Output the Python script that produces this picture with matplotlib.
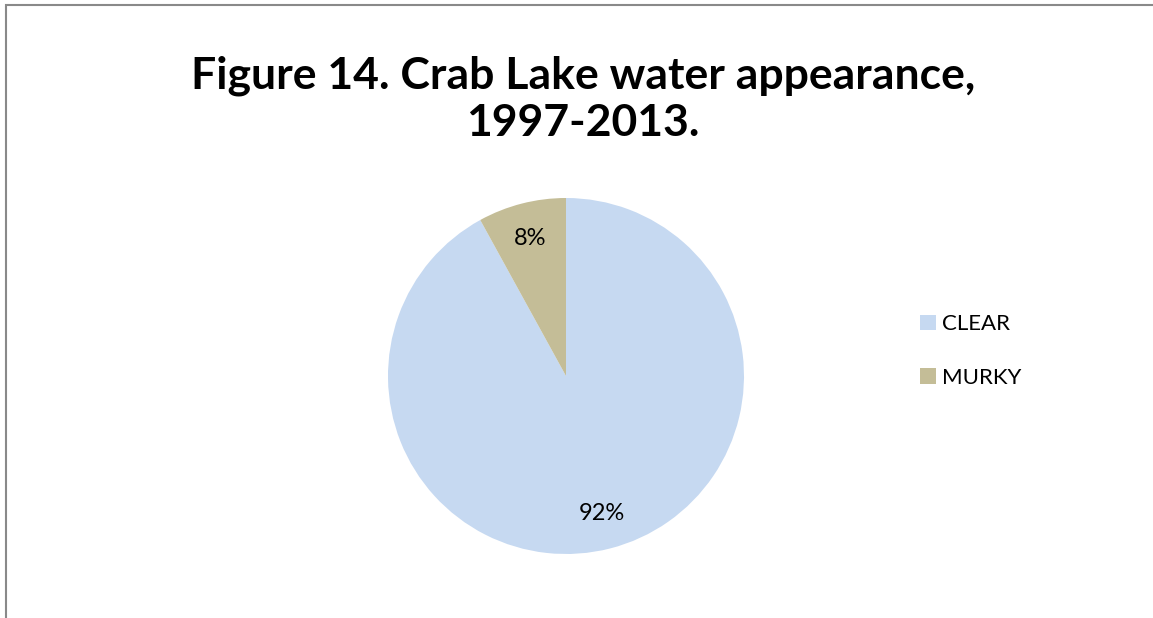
import matplotlib.pyplot as plt
from matplotlib.patches import Rectangle

# data
labels = ['CLEAR', 'MURKY']
values = [92, 8]
colors = ['#C6D9F1', '#C4BD97']
title = 'Figure 14. Crab Lake water appearance,\n1997-2013.'

W, H = 1153, 618
fig = plt.figure(figsize=(W / 100, H / 100), dpi=100)

# chart frame (only top/left edges visible in the crop)
fig.add_artist(Rectangle((5.5 / W, -0.1), 1.2, 1 - 5.5 / H + 0.1,
                         transform=fig.transFigure, fill=False,
                         edgecolor='#898989', linewidth=1.5))

fig.text(583 / W, 1 - 99 / H, title, ha='center', va='center',
         fontsize=32, fontweight='bold', family='Lato', linespacing=1.2)

# pie axes: centre (566, 376), radius 178 px
cx, cy, r = 566, 376, 178
ax = fig.add_axes([(cx - r) / W, (H - cy - r) / H, 2 * r / W, 2 * r / H])
wedges, texts, autotexts = ax.pie(values, colors=colors, startangle=90,
                                  counterclock=False, autopct='%1.0f%%',
                                  pctdistance=0.8,
                                  textprops={'fontsize': 17, 'family': 'Lato'})
ax.set_xlim(-1, 1)
ax.set_ylim(-1, 1)
ax.set_aspect('equal')

fig.legend(wedges, labels, loc='center left',
           bbox_to_anchor=(900 / W, 1 - 351 / H), frameon=False,
           prop={'family': 'Lato', 'size': 16}, handlelength=0.7,
           handleheight=0.7, handletextpad=0.3, labelspacing=1.5)

fig.savefig('out.png', dpi=100)
